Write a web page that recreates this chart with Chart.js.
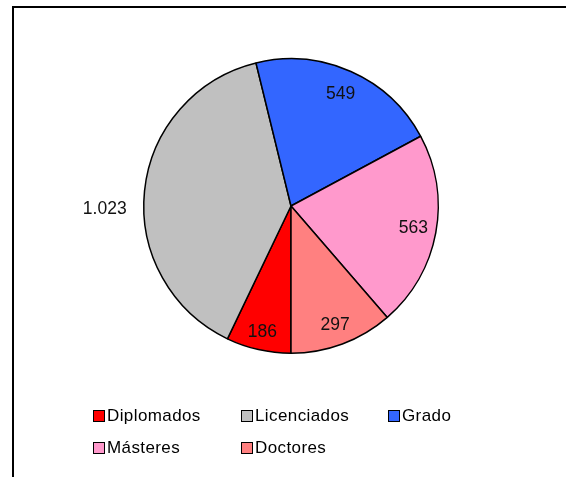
<!DOCTYPE html>
<html>
<head>
<meta charset="utf-8">
<script src="https://cdn.jsdelivr.net/npm/chart.js@4/dist/chart.umd.min.js"></script>
<style>
  html, body { margin: 0; padding: 0; background: #fff; }
  #wrap { position: relative; width: 566px; height: 477px; overflow: hidden; font-family: "Liberation Sans", Arial, sans-serif; }
  #frame { position: absolute; left: 12px; top: 6px; right: -4px; bottom: -4px; border-top: 2px solid #000; border-left: 2px solid #000; }
  #grafico { position: absolute; left: 0; top: 0; }
  #leyenda { position: absolute; left: 93px; top: 404px; display: grid; grid-template-columns: 148px 147px 80px; row-gap: 8px; }
  .item { display: flex; align-items: center; font-size: 17px; letter-spacing: 0.4px; color: #000; height: 24px; white-space: nowrap; }
  .caja { width: 10px; height: 10px; border: 1.5px solid #000; margin-right: 2px; }
</style>
</head>
<body>
<div id="wrap">
  <div id="frame"></div>
  <canvas id="grafico" width="566" height="477"></canvas>
  <div id="leyenda"></div>
</div>
<script>
// Datos del gráfico
const categorias = ['Diplomados', 'Licenciados', 'Grado', 'Másteres', 'Doctores'];
const valores = [186, 1023, 549, 563, 297];
const etiquetas = ['186', '1.023', '549', '563', '297'];
const colores = ['#FF0000', '#C0C0C0', '#3366FF', '#FF99CC', '#FF8080'];

// Posición de las etiquetas (fracción del radio y ajuste de ángulo)
const radioEtiqueta = [0.88, 1.265, 0.83, 0.845, 0.86];
const ajusteAngulo = [0, -7, 0, 0, 0];

const etiquetasPlugin = {
    id: 'etiquetas',
    afterDatasetsDraw(chart) {
        const ctx = chart.ctx;
        const meta = chart.getDatasetMeta(0);
        ctx.save();
        ctx.font = '17.5px "Liberation Sans", Arial, sans-serif';
        ctx.fillStyle = '#111';
        ctx.textAlign = 'center';
        ctx.textBaseline = 'middle';
        meta.data.forEach((arc, i) => {
            const p = arc.getProps(['x', 'y', 'startAngle', 'endAngle', 'outerRadius'], true);
            const ang = (p.startAngle + p.endAngle) / 2 + ajusteAngulo[i] * Math.PI / 180;
            const r = p.outerRadius * radioEtiqueta[i];
            ctx.fillText(etiquetas[i], p.x + Math.cos(ang) * r, p.y + Math.sin(ang) * r);
        });
        ctx.restore();
    }
};

const ctx = document.getElementById('grafico').getContext('2d');
const grafico = new Chart(ctx, {
    type: 'pie',
    data: {
        labels: categorias,
        datasets: [{
            data: valores,
            backgroundColor: colores,
            borderColor: '#000',
            borderWidth: 1.5
        }]
    },
    options: {
        responsive: false,
        animation: false,
        rotation: 180,
        layout: {
            padding: { left: 143, right: 127, top: 58, bottom: 123 }
        },
        plugins: {
            legend: { display: false },
            tooltip: { enabled: false }
        }
    },
    plugins: [etiquetasPlugin]
});

// Leyenda en HTML
const leyenda = document.getElementById('leyenda');
categorias.forEach((nombre, i) => {
    const item = document.createElement('div');
    item.className = 'item';
    item.innerHTML = `<span class="caja" style="background:${colores[i]}"></span><span>${nombre}</span>`;
    leyenda.appendChild(item);
});
</script>
</body>
</html>
